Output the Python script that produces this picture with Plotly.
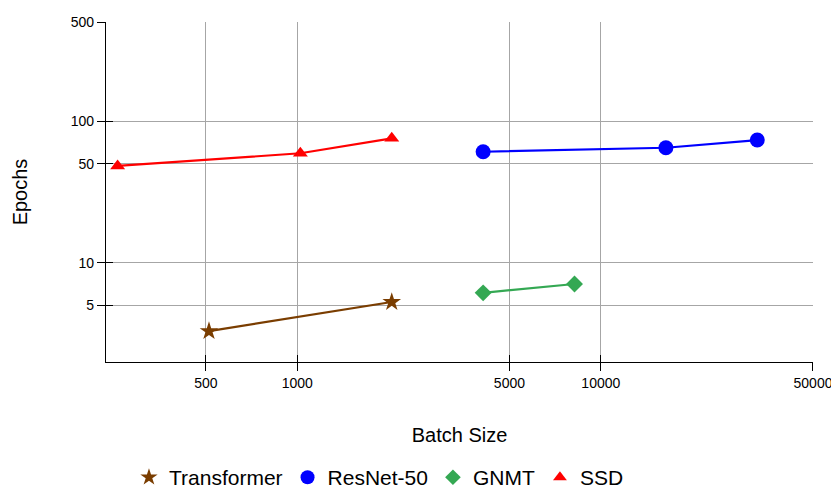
import plotly.graph_objects as go

# data
transformer_batch = [512, 2048]
transformer_epochs = [3.3, 5.3]

resnet_batch = [4096, 16384, 32768]
resnet_epochs = [60.8, 64.9, 73.5]

gnmt_batch = [4096, 8192]
gnmt_epochs = [6.15, 7.1]

ssd_batch = [256, 1024, 2048]
ssd_epochs = [48.3, 59.3, 75.6]

x_ticks = [500, 1000, 5000, 10000, 50000]
y_ticks = [5, 10, 50, 100, 500]

series = [
    ("Transformer", transformer_batch, transformer_epochs, "#7a3d00", "star", 14),
    ("ResNet-50", resnet_batch, resnet_epochs, "#0000ff", "circle", 15),
    ("GNMT", gnmt_batch, gnmt_epochs, "#34a853", "diamond", 13),
    ("SSD", ssd_batch, ssd_epochs, "#ff0000", "triangle-up", 13),
]

fig = go.Figure()
for name, xs, ys, color, symbol, size in series:
    fig.add_trace(
        go.Scatter(
            x=xs,
            y=ys,
            mode="lines+markers",
            name=name,
            showlegend=False,
            line=dict(color=color, width=2.2),
            marker=dict(color=color, symbol=symbol, size=size),
        )
    )
    # legend entry with the marker only
    fig.add_trace(
        go.Scatter(
            x=[None],
            y=[None],
            mode="markers",
            name=name,
            marker=dict(color=color, symbol=symbol, size=size - 1),
        )
    )

x_range = [2.37, 4.699]
y_range = [0.301, 2.699]
grid = "#a6a6a6"

# invisible point so the overlay axes (inner half of ticks) get drawn
fig.add_trace(
    go.Scatter(
        x=[1000], y=[10], xaxis="x2", yaxis="y2", mode="markers",
        marker=dict(opacity=0), showlegend=False, hoverinfo="skip",
    )
)

# page body adds 8px, so the figure is sized to fit the window
fig.update_layout(
    width=831,
    height=495,
    margin=dict(l=98, r=26, t=14, b=141, autoexpand=False),
    plot_bgcolor="white",
    paper_bgcolor="white",
    font=dict(family="Liberation Sans, Arial", color="black", size=14),
    xaxis=dict(
        type="log",
        range=x_range,
        tickvals=x_ticks,
        ticktext=[str(v) for v in x_ticks],
        showgrid=True,
        gridcolor=grid,
        gridwidth=1,
        showline=True,
        linecolor="black",
        linewidth=1.3,
        ticks="outside",
        ticklen=8,
        tickcolor="black",
        tickwidth=1.3,
        zeroline=False,
        automargin=False,
        title=dict(text="Batch Size", font=dict(size=20), standoff=38),
    ),
    yaxis=dict(
        type="log",
        range=y_range,
        tickvals=y_ticks,
        ticktext=[str(v) for v in y_ticks],
        showgrid=True,
        gridcolor=grid,
        gridwidth=1,
        showline=True,
        linecolor="black",
        linewidth=1.3,
        ticks="outside",
        ticklen=8,
        tickcolor="black",
        tickwidth=1.3,
        zeroline=False,
        automargin=False,
        title=dict(text="Epochs", font=dict(size=20), standoff=37),
    ),
    xaxis2=dict(
        type="log",
        range=x_range,
        overlaying="x",
        anchor="y2",
        side="bottom",
        tickvals=x_ticks,
        showticklabels=False,
        showgrid=False,
        showline=False,
        ticks="inside",
        ticklen=7,
        tickcolor="black",
        tickwidth=1.3,
        zeroline=False,
        automargin=False,
    ),
    yaxis2=dict(
        type="log",
        range=y_range,
        overlaying="y",
        anchor="x2",
        side="left",
        tickvals=y_ticks,
        showticklabels=False,
        showgrid=False,
        showline=False,
        ticks="inside",
        ticklen=7,
        tickcolor="black",
        tickwidth=1.3,
        zeroline=False,
        automargin=False,
    ),
    legend=dict(
        orientation="h",
        x=0.0325,
        xanchor="left",
        y=-0.34,
        yanchor="middle",
        font=dict(size=21),
        itemwidth=30,
    ),
)

fig.write_html("out.html")
